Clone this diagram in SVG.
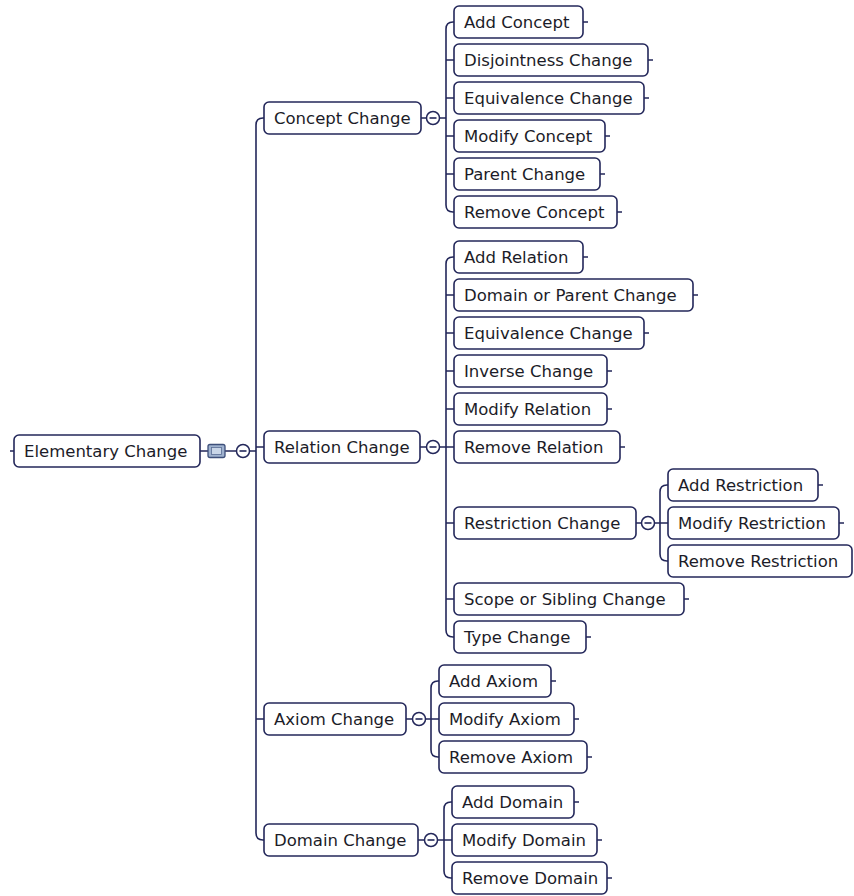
<svg xmlns="http://www.w3.org/2000/svg" width="854" height="896" viewBox="0 0 854 896">
<style>
.n{fill:#fff;stroke:#23275a;stroke-width:1.6}
.t{font-family:"DejaVu Sans",Verdana,sans-serif;font-size:16.5px;fill:#1c1c28}
.c{fill:none;stroke:#23275a;stroke-width:1.6}
.tk{fill:none;stroke:#23275a;stroke-width:1.3}
.b{fill:#fff;stroke:#23275a;stroke-width:1.5}
</style>
<rect width="854" height="896" fill="#fff"/>
<g id="connectors">
<path class="c" d="M10,451 H14 M200,451 H208 M225,451 H236 M249.5,451 H256"/>
<path class="c" d="M264,118 H263 Q256,118 256,125 V833 Q256,840 263,840 H264 M256,447 H264 M256,719 H264"/>
<path class="c" d="M421,118 H426.5 M439.5,118 H446"/>
<path class="c" d="M454,22 H453 Q446,22 446,29 V205 Q446,212 453,212 H454 M446,60 H454 M446,98 H454 M446,136 H454 M446,174 H454"/>
<path class="c" d="M420,447 H426.5 M439.5,447 H446"/>
<path class="c" d="M454,257 H453 Q446,257 446,264 V630 Q446,637 453,637 H454 M446,295 H454 M446,333 H454 M446,371 H454 M446,409 H454 M446,447 H454 M446,523 H454 M446,599 H454"/>
<path class="c" d="M636,523 H641.5 M654.5,523 H660"/>
<path class="c" d="M668,485 H667 Q660,485 660,492 V554 Q660,561 667,561 H668 M660,523 H668"/>
<path class="c" d="M406,719 H412.5 M425.5,719 H431"/>
<path class="c" d="M439,681 H438 Q431,681 431,688 V750 Q431,757 438,757 H439 M431,719 H439"/>
<path class="c" d="M418,840 H424.5 M437.5,840 H444"/>
<path class="c" d="M452,802 H451 Q444,802 444,809 V871 Q444,878 451,878 H452 M444,840 H452"/>
<g>
<rect x="208" y="444.5" width="17" height="13" rx="2" fill="#9fb2cf" stroke="#3d4f7a" stroke-width="1.3"/>
<rect x="211.5" y="447.5" width="10" height="7" fill="#c9d6e8" stroke="#5a6d94" stroke-width="0.8"/>
<circle class="b" cx="243" cy="451" r="6.5"/><path class="c" d="M239.5,451 H246.5"/>
<circle class="b" cx="433" cy="118" r="6.5"/><path class="c" d="M429.5,118 H436.5"/>
<circle class="b" cx="433" cy="447" r="6.5"/><path class="c" d="M429.5,447 H436.5"/>
<circle class="b" cx="648" cy="523" r="6.5"/><path class="c" d="M644.5,523 H651.5"/>
<circle class="b" cx="419" cy="719" r="6.5"/><path class="c" d="M415.5,719 H422.5"/>
<circle class="b" cx="431" cy="840" r="6.5"/><path class="c" d="M427.5,840 H434.5"/>
</g>
<path class="tk" d="M583,22 h5 M648,60 h5 M644,98 h5 M605,136 h5 M600,174 h5 M617,212 h5 M583,257 h5 M693,295 h5 M644,333 h5 M607,371 h5 M607,409 h5 M620,447 h5 M684,599 h5 M586,637 h5 M818,485 h5 M839,523 h5 M551,681 h5 M574,719 h5 M587,757 h5 M574,802 h5 M597,840 h5 M607,878 h5"/>
</g>
<g id="elementary"><rect class="n" x="14" y="435" width="186" height="32" rx="5"/><text class="t" x="24" y="457">Elementary Change</text></g>
<g id="concept"><rect class="n" x="264" y="102" width="157" height="32" rx="5"/><text class="t" x="274" y="124">Concept Change</text></g>
<g id="relation"><rect class="n" x="264" y="431" width="156" height="32" rx="5"/><text class="t" x="274" y="453">Relation Change</text></g>
<g id="axiom"><rect class="n" x="264" y="703" width="142" height="32" rx="5"/><text class="t" x="274" y="725">Axiom Change</text></g>
<g id="domain"><rect class="n" x="264" y="824" width="154" height="32" rx="5"/><text class="t" x="274" y="846">Domain Change</text></g>
<g id="add-concept"><rect class="n" x="454" y="6" width="129" height="32" rx="5"/><text class="t" x="464" y="28">Add Concept</text></g>
<g id="disjointness-change"><rect class="n" x="454" y="44" width="194" height="32" rx="5"/><text class="t" x="464" y="66">Disjointness Change</text></g>
<g id="equivalence-change-c"><rect class="n" x="454" y="82" width="190" height="32" rx="5"/><text class="t" x="464" y="104">Equivalence Change</text></g>
<g id="modify-concept"><rect class="n" x="454" y="120" width="151" height="32" rx="5"/><text class="t" x="464" y="142">Modify Concept</text></g>
<g id="parent-change"><rect class="n" x="454" y="158" width="146" height="32" rx="5"/><text class="t" x="464" y="180">Parent Change</text></g>
<g id="remove-concept"><rect class="n" x="454" y="196" width="163" height="32" rx="5"/><text class="t" x="464" y="218">Remove Concept</text></g>
<g id="add-relation"><rect class="n" x="454" y="241" width="129" height="32" rx="5"/><text class="t" x="464" y="263">Add Relation</text></g>
<g id="domain-or-parent-change"><rect class="n" x="454" y="279" width="239" height="32" rx="5"/><text class="t" x="464" y="301">Domain or Parent Change</text></g>
<g id="equivalence-change-r"><rect class="n" x="454" y="317" width="190" height="32" rx="5"/><text class="t" x="464" y="339">Equivalence Change</text></g>
<g id="inverse-change"><rect class="n" x="454" y="355" width="153" height="32" rx="5"/><text class="t" x="464" y="377">Inverse Change</text></g>
<g id="modify-relation"><rect class="n" x="454" y="393" width="153" height="32" rx="5"/><text class="t" x="464" y="415">Modify Relation</text></g>
<g id="remove-relation"><rect class="n" x="454" y="431" width="166" height="32" rx="5"/><text class="t" x="464" y="453">Remove Relation</text></g>
<g id="restriction-change"><rect class="n" x="454" y="507" width="182" height="32" rx="5"/><text class="t" x="464" y="529">Restriction Change</text></g>
<g id="scope-or-sibling-change"><rect class="n" x="454" y="583" width="230" height="32" rx="5"/><text class="t" x="464" y="605">Scope or Sibling Change</text></g>
<g id="type-change"><rect class="n" x="454" y="621" width="132" height="32" rx="5"/><text class="t" x="464" y="643">Type Change</text></g>
<g id="add-restriction"><rect class="n" x="668" y="469" width="150" height="32" rx="5"/><text class="t" x="678" y="491">Add Restriction</text></g>
<g id="modify-restriction"><rect class="n" x="668" y="507" width="171" height="32" rx="5"/><text class="t" x="678" y="529">Modify Restriction</text></g>
<g id="remove-restriction"><rect class="n" x="668" y="545" width="184" height="32" rx="5"/><text class="t" x="678" y="567">Remove Restriction</text></g>
<g id="add-axiom"><rect class="n" x="439" y="665" width="112" height="32" rx="5"/><text class="t" x="449" y="687">Add Axiom</text></g>
<g id="modify-axiom"><rect class="n" x="439" y="703" width="135" height="32" rx="5"/><text class="t" x="449" y="725">Modify Axiom</text></g>
<g id="remove-axiom"><rect class="n" x="439" y="741" width="148" height="32" rx="5"/><text class="t" x="449" y="763">Remove Axiom</text></g>
<g id="add-domain"><rect class="n" x="452" y="786" width="122" height="32" rx="5"/><text class="t" x="462" y="808">Add Domain</text></g>
<g id="modify-domain"><rect class="n" x="452" y="824" width="145" height="32" rx="5"/><text class="t" x="462" y="846">Modify Domain</text></g>
<g id="remove-domain"><rect class="n" x="452" y="862" width="155" height="32" rx="5"/><text class="t" x="462" y="884">Remove Domain</text></g>
</svg>
